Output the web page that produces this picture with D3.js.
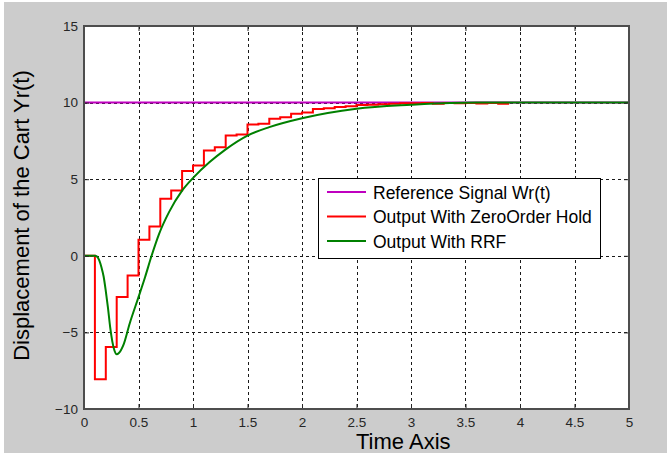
<!DOCTYPE html>
<html>
<head>
<meta charset="utf-8">
<script src="https://cdn.jsdelivr.net/npm/d3@7"></script>
<style>
    body { margin: 0; background: #ffffff; }
    svg { display: block; font-family: "Liberation Sans", Arial, sans-serif; }
</style>
</head>
<body>
<svg id="svg-main"></svg>
<script>
const X_TICKS = [0, 0.5, 1, 1.5, 2, 2.5, 3, 3.5, 4, 4.5, 5];
const Y_TICKS = [-10, -5, 0, 5, 10, 15];

const LEGEND_LABELS = ["Reference Signal Wr(t)", "Output With ZeroOrder Hold", "Output With RRF"];
const SERIES_COLORS = ["#bf00bf", "#ff0000", "#008000"];

// reference signal
const REF_T = [0, 5];
const REF_V = [10, 10];

// zero order hold output, one value per 0.1 s sample
const ZOH_PERIOD = 0.1;
const ZOH_V = [0, -8.05, -5.96, -2.69, -1.28, 1.05, 1.92, 3.72, 4.27, 5.53,
               5.9, 6.88, 7.09, 7.85, 7.92, 8.57, 8.62, 8.94, 9.05, 9.27,
               9.35, 9.58, 9.63, 9.72, 9.76, 9.84, 9.86, 9.9, 9.92, 9.95,
               9.96, 9.97, 9.93, 9.98, 9.95, 9.98, 9.94, 9.97, 9.93];

// RRF output
const RRF_T = [0, 0.1, 0.12, 0.14, 0.16, 0.18, 0.2, 0.22, 0.24, 0.26, 0.28, 0.3, 0.32,
               0.36, 0.42, 0.5, 0.56, 0.62, 0.69, 0.78, 0.9, 1.01, 1.15, 1.3,
               1.5, 1.7, 2.0, 2.5, 3.0, 3.36, 3.6, 5];
const RRF_V = [0, 0, -0.05, -0.3, -0.75, -1.35, -2.3, -3.4, -4.65, -5.6, -6.2, -6.43, -6.35,
               -5.85, -4.4, -2.7, -1.4, 0, 1.45, 2.85, 4.25, 5.15, 6.1, 6.95,
               7.85, 8.4, 8.98, 9.6, 9.86, 9.98, 10, 10];

var Dims = {
    Svg : { Width: 667, Height: 455 },
    Plot : { Left: 84, Top: 26, Right: 629, Bottom: 409 },
    Legend : { X: 318, Y: 178, Width: 282, Height: 80 }
};

var svg = d3.select("svg#svg-main")
    .attr("width", Dims.Svg.Width)
    .attr("height", Dims.Svg.Height);

var xScale = d3.scaleLinear().domain([0, 5]).range([Dims.Plot.Left, Dims.Plot.Right]);
var yScale = d3.scaleLinear().domain([-10, 15]).range([Dims.Plot.Bottom, Dims.Plot.Top]);

drawBackground();
drawGrid();
drawSeries();
drawAxes();
drawLegend();
drawTitles();

function drawBackground() {
    svg.append("rect")
        .attr("x", 4).attr("y", 2)
        .attr("width", Dims.Svg.Width - 4).attr("height", 451)
        .attr("fill", "#cccccc");

    svg.append("rect")
        .attr("x", Dims.Plot.Left).attr("y", Dims.Plot.Top)
        .attr("width", Dims.Plot.Right - Dims.Plot.Left)
        .attr("height", Dims.Plot.Bottom - Dims.Plot.Top)
        .attr("fill", "#ffffff");
}

function drawGrid() {
    var grid = svg.append("g").attr("class", "grid");

    grid.selectAll("line.vgrid")
        .data(X_TICKS.slice(1, -1))
        .enter()
        .append("line")
        .attr("class", "vgrid")
        .attr("x1", d => Math.round(xScale(d)) + 0.5)
        .attr("x2", d => Math.round(xScale(d)) + 0.5)
        .attr("y1", Dims.Plot.Top)
        .attr("y2", Dims.Plot.Bottom)
        .attr("stroke", "#1a1a1a")
        .attr("stroke-width", 1)
        .attr("stroke-dasharray", "3,3");

    grid.selectAll("line.hgrid")
        .data(Y_TICKS.slice(1, -1))
        .enter()
        .append("line")
        .attr("class", "hgrid")
        .attr("x1", Dims.Plot.Left)
        .attr("x2", Dims.Plot.Right)
        .attr("y1", d => Math.round(yScale(d)) + 0.5)
        .attr("y2", d => Math.round(yScale(d)) + 0.5)
        .attr("stroke", "#1a1a1a")
        .attr("stroke-width", 1)
        .attr("stroke-dasharray", "3,3");
}

function drawSeries() {
    var line = d3.line()
        .x(d => xScale(d[0]))
        .y(d => yScale(d[1]));

    var refData = REF_T.map((t, i) => [t, REF_V[i]]);
    var zohData = ZOH_V.map((v, i) => [i * ZOH_PERIOD, v]);
    zohData.push([ZOH_V.length * ZOH_PERIOD, ZOH_V[ZOH_V.length - 1]]);
    var rrfData = RRF_T.map((t, i) => [t, RRF_V[i]]);

    var grp = svg.append("g").attr("class", "series");

    grp.append("path")
        .attr("d", line(refData))
        .attr("fill", "none")
        .attr("stroke", SERIES_COLORS[0])
        .attr("stroke-width", 2);

    grp.append("path")
        .attr("d", line.curve(d3.curveStepAfter)(zohData))
        .attr("fill", "none")
        .attr("stroke", SERIES_COLORS[1])
        .attr("stroke-width", 2);

    grp.append("path")
        .attr("d", line.curve(d3.curveMonotoneX)(rrfData))
        .attr("fill", "none")
        .attr("stroke", SERIES_COLORS[2])
        .attr("stroke-width", 2);
}

function drawAxes() {
    var bottom = svg.append("g")
        .attr("transform", `translate(0, ${Dims.Plot.Bottom})`)
        .call(d3.axisBottom(xScale).tickValues(X_TICKS).tickSize(-5).tickPadding(8)
            .tickFormat(d3.format("")));

    var left = svg.append("g")
        .attr("transform", `translate(${Dims.Plot.Left}, 0)`)
        .call(d3.axisLeft(yScale).tickValues(Y_TICKS).tickSize(-5).tickPadding(6));

    var top = svg.append("g")
        .attr("transform", `translate(0, ${Dims.Plot.Top})`)
        .call(d3.axisTop(xScale).tickValues(X_TICKS).tickSize(-5).tickFormat(""));

    var right = svg.append("g")
        .attr("transform", `translate(${Dims.Plot.Right}, 0)`)
        .call(d3.axisRight(yScale).tickValues(Y_TICKS).tickSize(-5).tickFormat(""));

    [bottom, left, top, right].forEach(function (g) {
        g.select(".domain").remove();
        g.selectAll(".tick line").attr("stroke", "#262626");
        g.selectAll(".tick text")
            .attr("fill", "#262626")
            .style("font-size", "13.5px");
    });

    svg.append("rect")
        .attr("x", Dims.Plot.Left).attr("y", Dims.Plot.Top)
        .attr("width", Dims.Plot.Right - Dims.Plot.Left)
        .attr("height", Dims.Plot.Bottom - Dims.Plot.Top)
        .attr("fill", "none")
        .attr("stroke", "#4d4d4d")
        .attr("stroke-width", 2);
}

function drawLegend() {
    var lg = svg.append("g")
        .attr("transform", `translate(${Dims.Legend.X}, ${Dims.Legend.Y})`);

    lg.append("rect")
        .attr("x", 0.5).attr("y", 0.5)
        .attr("width", Dims.Legend.Width).attr("height", Dims.Legend.Height)
        .attr("fill", "#ffffff")
        .attr("stroke", "#000000")
        .attr("stroke-width", 1);

    var rows = lg.selectAll("g.legend-row")
        .data(LEGEND_LABELS)
        .enter()
        .append("g")
        .attr("class", "legend-row")
        .attr("transform", (d, i) => `translate(0, ${14 + i * 24.5})`);

    rows.append("line")
        .attr("x1", 9).attr("x2", 48)
        .attr("y1", 0).attr("y2", 0)
        .attr("stroke", (d, i) => SERIES_COLORS[i])
        .attr("stroke-width", 2);

    rows.append("text")
        .attr("x", 55)
        .attr("y", 6.5)
        .attr("fill", "#000000")
        .style("font-size", "17.5px")
        .text(d => d);
}

function drawTitles() {
    svg.append("text")
        .attr("transform", `translate(29, 215.5) rotate(-90)`)
        .attr("text-anchor", "middle")
        .attr("fill", "#000000")
        .style("font-size", "22px")
        .text("Displacement of the Cart Yr(t)");

    svg.append("text")
        .attr("x", 356)
        .attr("y", 449)
        .attr("fill", "#000000")
        .style("font-size", "22px")
        .text("Time Axis");
}
</script>
</body>
</html>
